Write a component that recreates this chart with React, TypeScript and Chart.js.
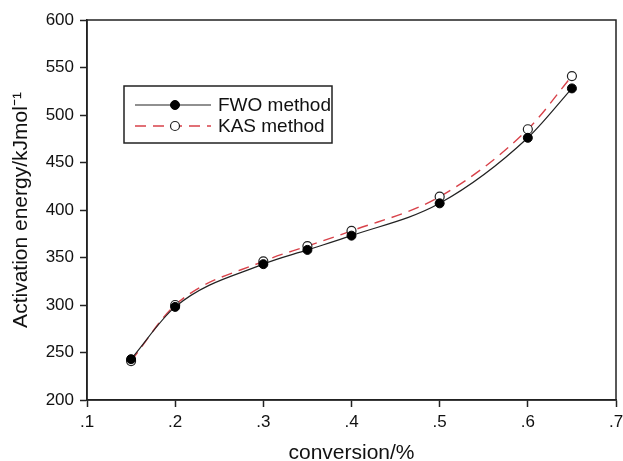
import React, { useEffect, useRef } from "react";
import { Chart, registerables } from "chart.js";

Chart.register(...registerables);

const conversion = [0.15, 0.2, 0.3, 0.35, 0.4, 0.5, 0.6, 0.65];
const fwoValues = [243, 298, 343, 358, 373, 407, 476, 528];
const kasValues = [241, 300, 346, 362, 378, 414, 485, 541];
const seriesLabels = ["FWO method", "KAS method"];
const xTitle = "conversion/%";
const yTitle = "Activation energy/kJmol\u207B\u00B9";

const FONT = "'Liberation Sans', Arial, Helvetica, sans-serif";

const framePlugin = {
  id: "frame",
  afterDraw(chart: any) {
    const { ctx, chartArea } = chart;
    ctx.save();
    ctx.strokeStyle = "#222";
    ctx.lineWidth = 1.5;
    ctx.strokeRect(chartArea.left, chartArea.top, chartArea.right - chartArea.left, chartArea.bottom - chartArea.top);
    ctx.restore();
  },
};

const boxLegendPlugin = {
  id: "boxLegend",
  afterDraw(chart: any) {
    const { ctx } = chart;
    const x0 = 124, y0 = 86, w = 208, h = 57;
    ctx.save();
    ctx.fillStyle = "#fff";
    ctx.fillRect(x0, y0, w, h);
    ctx.strokeStyle = "#222";
    ctx.lineWidth = 1.5;
    ctx.strokeRect(x0, y0, w, h);
    const ds = chart.data.datasets;
    const rows = [105, 126];
    ds.forEach((d: any, i: number) => {
      const y = rows[i];
      ctx.strokeStyle = d.borderColor;
      ctx.lineWidth = d.borderWidth;
      ctx.setLineDash(d.borderDash || []);
      ctx.beginPath();
      ctx.moveTo(x0 + 11, y);
      ctx.lineTo(x0 + 87, y);
      ctx.stroke();
      ctx.setLineDash([]);
      ctx.beginPath();
      ctx.arc(x0 + 51, y, d.pointRadius, 0, Math.PI * 2);
      ctx.fillStyle = d.pointBackgroundColor;
      ctx.fill();
      ctx.strokeStyle = d.pointBorderColor;
      ctx.lineWidth = d.pointBorderWidth;
      ctx.stroke();
      ctx.fillStyle = "#111";
      ctx.font = `19px ${FONT}`;
      ctx.textBaseline = "middle";
      ctx.textAlign = "left";
      ctx.fillText(d.label, x0 + 94, y + 1);
    });
    ctx.restore();
  },
};

export default function App() {
  const ref = useRef<HTMLCanvasElement>(null);
  useEffect(() => {
    document.body.style.margin = "0";
    const chart = new Chart(ref.current!, {
      type: "line",
      data: {
        datasets: [
          {
            label: seriesLabels[0],
            data: conversion.map((x, i) => ({ x, y: fwoValues[i] })),
            borderColor: "#222",
            borderWidth: 1.2,
            pointRadius: 4.5,
            pointBackgroundColor: "#000",
            pointBorderColor: "#000",
            pointBorderWidth: 1,
            cubicInterpolationMode: "monotone",
            fill: false,
          },
          {
            label: seriesLabels[1],
            data: conversion.map((x, i) => ({ x, y: kasValues[i] })),
            borderColor: "#d8424a",
            borderWidth: 1.4,
            borderDash: [11, 7],
            pointRadius: 4.5,
            pointBackgroundColor: "#fff",
            pointBorderColor: "#222",
            pointBorderWidth: 1.2,
            cubicInterpolationMode: "monotone",
            fill: false,
          },
        ],
      },
      options: {
        animation: false,
        responsive: false,
        devicePixelRatio: 1,
        layout: { padding: { left: 0, right: 7, top: 20, bottom: 0 } },
        plugins: { legend: { display: false }, tooltip: { enabled: false } },
        scales: {
          x: {
            type: "linear",
            min: 0.1,
            max: 0.7,
            afterFit(scale: any) {
              scale.height = 61;
              scale.paddingLeft = 0;
              scale.paddingRight = 0;
            },
            ticks: {
              stepSize: 0.1,
              color: "#111",
              font: { family: FONT, size: 17 },
              padding: 5,
              callback: (v: any) => Number(v).toFixed(1).replace(/^0/, ""),
            },
            grid: { drawOnChartArea: false, drawTicks: true, tickLength: 7, tickColor: "#222", tickWidth: 1.5 },
            border: { display: true, color: "#222", width: 1.5 },
            title: { display: true, text: xTitle, color: "#111", font: { family: FONT, size: 21, lineHeight: 1 }, padding: { top: 4, bottom: -3 } },
          },
          y: {
            type: "linear",
            min: 200,
            max: 600,
            afterFit(scale: any) {
              scale.width = 87;
              scale.paddingTop = 0;
              scale.paddingBottom = 0;
            },
            ticks: {
              stepSize: 50,
              color: "#111",
              font: { family: FONT, size: 17 },
              padding: 6,
            },
            grid: { drawOnChartArea: false, drawTicks: true, tickLength: 7, tickColor: "#222", tickWidth: 1.5 },
            border: { display: true, color: "#222", width: 1.5 },
            title: { display: true, text: yTitle, color: "#111", font: { family: FONT, size: 21, lineHeight: 1 }, padding: { top: 11, bottom: 4 } },
          },
        },
      },
      plugins: [framePlugin, boxLegendPlugin],
    } as any);
    return () => chart.destroy();
  }, []);
  return (
    <div style={{ width: 623, height: 461 }}>
      <canvas ref={ref} width={623} height={461} style={{ display: "block" }} />
    </div>
  );
}
